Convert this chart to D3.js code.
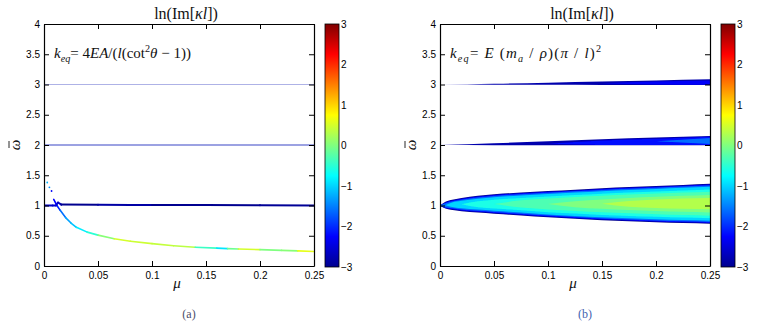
<!DOCTYPE html>
<html>
<head>
<meta charset="utf-8">
<script src="https://cdn.jsdelivr.net/npm/d3@7"></script>
<style>
  body { margin: 0; background: #fff; }
  svg { display: block; }
</style>
</head>
<body>
<svg id="fig" width="764" height="325"></svg>
<script>
// ---- values ----
const muTicks = [0, 0.05, 0.1, 0.15, 0.2, 0.25];
const omegaTicks = [0, 0.5, 1, 1.5, 2, 2.5, 3, 3.5, 4];
const cbTicks = [-3, -2, -1, 0, 1, 2, 3];

// panel (a): straight modes
const flatMu = [0, 0.25];
const flat3 = [3, 3];
const flat2 = [2, 2];
// panel (a): branch along omega = 1 (mu, omega, ln Im)
const branchMu = [0, 0.008, 0.011, 0.013, 0.016, 0.05, 0.08, 0.1, 0.15, 0.2, 0.25];
const branchOmega = [1.0, 1.0, 1.0, 1.05, 1.015, 1.012, 1.01, 1.01, 1.01, 1.005, 1.0];
const branchLn = [-2.6, -2.6, -2.6, -2.4, -3, -3, -2.7, -3, -3, -3, -2.9];
// panel (a): decaying branch
const curveMu = [0.009, 0.012, 0.015, 0.02, 0.025, 0.03, 0.04, 0.05, 0.065, 0.08, 0.1, 0.12, 0.14, 0.16, 0.17, 0.18, 0.2, 0.22, 0.235, 0.25];
const curveOmega = [1.1, 1.0, 0.92, 0.8, 0.71, 0.64, 0.56, 0.51, 0.45, 0.41, 0.37, 0.335, 0.31, 0.295, 0.287, 0.28, 0.27, 0.258, 0.25, 0.24];
const curveLn = [-2.2, -2.3, -1.8, -1.4, -1.2, -1.0, -0.7, -0.3, 0.4, 0.6, 0.3, 0.5, 0.2, -1.0, -0.8, 0.6, 0.4, -0.4, 0.5, 0.7];
// panel (a): scattered points above the junction
const dotMu = [0.003, 0.005, 0.007];
const dotOmega = [1.38, 1.3, 1.24];
const dotLn = [-1.2, -1.4, -2.3];

// panel (b): unstable band around omega = 1, nested levels of ln Im
const bandMu = [0, 0.005, 0.01, 0.02, 0.035, 0.05, 0.075, 0.1, 0.125, 0.15, 0.175, 0.2, 0.225, 0.25];
const band300Top = [1.0, 1.06, 1.09, 1.125, 1.16, 1.185, 1.215, 1.24, 1.262, 1.285, 1.305, 1.322, 1.34, 1.358];
const band300Bot = [1.0, 0.95, 0.93, 0.905, 0.885, 0.865, 0.835, 0.805, 0.78, 0.757, 0.74, 0.725, 0.712, 0.70];
const band220Top = [1.0, 1.05, 1.079, 1.113, 1.148, 1.173, 1.203, 1.228, 1.25, 1.273, 1.293, 1.31, 1.328, 1.346];
const band220Bot = [1.0, 0.958, 0.941, 0.917, 0.897, 0.877, 0.847, 0.817, 0.792, 0.769, 0.752, 0.737, 0.724, 0.712];
const band160Top = [1.0, 1.038, 1.063, 1.097, 1.132, 1.157, 1.187, 1.212, 1.234, 1.257, 1.277, 1.294, 1.312, 1.33];
const band160Bot = [1.0, 0.97, 0.958, 0.933, 0.913, 0.893, 0.863, 0.833, 0.808, 0.785, 0.768, 0.753, 0.74, 0.728];
const band100Top = [null, 1.005, 1.042, 1.077, 1.112, 1.137, 1.167, 1.192, 1.214, 1.237, 1.257, 1.274, 1.292, 1.31];
const band100Bot = [null, 1.005, 0.978, 0.953, 0.933, 0.913, 0.883, 0.853, 0.828, 0.805, 0.788, 0.773, 0.76, 0.748];
const band060Top = [null, null, null, 1.02, 1.07, 1.095, 1.125, 1.15, 1.172, 1.195, 1.215, 1.232, 1.25, 1.265];
const band060Bot = [null, null, null, 1.02, 0.97, 0.95, 0.92, 0.89, 0.866, 0.845, 0.828, 0.812, 0.8, 0.79];
const band030Top = [null, null, null, null, null, 1.025, 1.085, 1.115, 1.14, 1.16, 1.18, 1.197, 1.213, 1.228];
const band030Bot = [null, null, null, null, null, 1.025, 0.965, 0.935, 0.91, 0.888, 0.87, 0.855, 0.842, 0.832];
const band000Top = [null, null, null, null, null, null, null, 1.025, 1.07, 1.1, 1.125, 1.145, 1.16, 1.175];
const band000Bot = [null, null, null, null, null, null, null, 1.025, 0.97, 0.945, 0.925, 0.908, 0.895, 0.885];
const bandP30Top = [null, null, null, null, null, null, null, null, null, 1.03, 1.075, 1.1, 1.115, 1.125];
const bandP30Bot = [null, null, null, null, null, null, null, null, null, 1.03, 0.98, 0.96, 0.948, 0.94];
const bandLevels = [-3, -2.2, -1.6, -1.0, -0.6, -0.3, 0, 0.3];

// panel (b): thin wedges at omega = 2 and 3
const wedgeMu = [0, 0.05, 0.1, 0.15, 0.2, 0.25];
const w3OutTop = [3.0, 3.012, 3.028, 3.048, 3.068, 3.085];
const w3OutBot = [2.998, 2.996, 2.994, 2.992, 2.99, 2.99];
const w3InTop = [null, null, null, 3.02, 3.05, 3.068];
const w3InBot = [null, null, null, 3.02, 3.0, 2.996];
const w2OutTop = [2.0, 2.028, 2.062, 2.095, 2.122, 2.15];
const w2OutBot = [1.998, 1.996, 1.995, 1.995, 1.995, 1.995];
const w2InTop = [null, null, 2.02, 2.075, 2.105, 2.135];
const w2InBot = [null, null, 2.02, 2.0, 1.999, 1.999];
const w2CoreTop = [null, null, null, null, 2.06, 2.115];
const w2CoreBot = [null, null, null, null, 2.06, 2.015];

// ---- drawing ----
const svg = d3.select("#fig");
svg.append("rect").attr("width", 764).attr("height", 325).attr("fill", "#fff");

// MATLAB jet colormap
const jet = d3.scaleLinear()
  .domain([-3, -2.25, -0.75, 0.75, 2.25, 3])
  .range(["#00008f", "#0000ff", "#00ffff", "#ffff00", "#ff0000", "#800000"])
  .clamp(true);

const defs = svg.append("defs");
const grad = defs.append("linearGradient").attr("id", "jet")
  .attr("x1", 0).attr("y1", 1).attr("x2", 0).attr("y2", 0);
jet.domain().forEach(v => {
  grad.append("stop").attr("offset", (v + 3) / 6).attr("stop-color", jet(v));
});
defs.append("filter").attr("id", "soft")
  .append("feGaussianBlur").attr("stdDeviation", 0.5);

const sans = "'Liberation Sans', Arial, Helvetica, sans-serif";
const serif = "'Liberation Serif', 'Times New Roman', serif";

// text with italic / sub / sup pieces
function mathText(g, x, y, parts, size, anchor) {
  const t = g.append("text").attr("x", x).attr("y", y)
    .attr("text-anchor", anchor || "start")
    .style("font-family", serif).style("font-size", size + "px").attr("fill", "#111");
  let shift = 0;
  parts.forEach(([s, f]) => {
    f = f || "";
    const target = f.includes("_") ? size * 0.28 : f.includes("^") ? -size * 0.4 : 0;
    t.append("tspan").attr("dy", target - shift)
      .style("font-style", f.includes("i") ? "italic" : "normal")
      .style("font-size", target ? (size * 0.68) + "px" : null)
      .text(s);
    shift = target;
  });
  return t;
}

function panel(opt) {
  const x = d3.scaleLinear().domain([0, 0.25]).range([opt.left, opt.left + 270]);
  const y = d3.scaleLinear().domain([0, 4]).range([266, 24]);
  const g = svg.append("g");

  g.append("clipPath").attr("id", "clip" + opt.id)
    .append("rect").attr("x", x(0)).attr("y", y(4)).attr("width", 270).attr("height", y(0) - y(4));
  const plot = g.append("g").attr("clip-path", `url(#clip${opt.id})`);

  opt.draw(plot, x, y);

  // axes with inward ticks, MATLAB box
  const fmt = d3.format("~g");
  g.append("g").attr("transform", `translate(0,${y(0)})`)
    .call(d3.axisBottom(x).tickValues(muTicks).tickFormat(fmt).tickSize(-5).tickSizeOuter(0).tickPadding(6));
  g.append("g").attr("transform", `translate(${x(0)},0)`)
    .call(d3.axisLeft(y).tickValues(omegaTicks).tickFormat(fmt).tickSize(-5).tickSizeOuter(0).tickPadding(4));
  g.append("g").attr("transform", `translate(0,${y(4)})`)
    .call(d3.axisTop(x).tickValues(muTicks).tickFormat("").tickSize(-5).tickSizeOuter(0));
  g.append("g").attr("transform", `translate(${x(0.25)},0)`)
    .call(d3.axisRight(y).tickValues(omegaTicks).tickFormat("").tickSize(-5).tickSizeOuter(0));
  g.selectAll(".tick text").style("font-family", sans).style("font-size", "10px").attr("fill", "#000");
  g.selectAll(".domain").attr("stroke", "#000").attr("stroke-width", 1.2);
  g.selectAll(".tick line").attr("stroke", "#000");

  // colour bar
  const cbX = opt.left + 281;
  const cy = d3.scaleLinear().domain([-3, 3]).range([y(0) + 1, y(4)]);
  g.append("rect").attr("x", cbX).attr("y", cy(3)).attr("width", 14).attr("height", cy(-3) - cy(3))
    .attr("fill", "url(#jet)").attr("stroke", "#000").attr("stroke-width", 0.8);
  g.append("g").attr("transform", `translate(${cbX + 14},0)`)
    .call(d3.axisRight(cy).tickValues(cbTicks).tickFormat(d3.format("d")).tickSize(0).tickPadding(2))
    .call(a => a.select(".domain").remove())
    .selectAll("text").style("font-family", sans).style("font-size", "10px").attr("fill", "#000");

  // titles and labels
  mathText(g, opt.left + 142, 19, [["ln(Im[", ""], ["κl", "i"], ["])", ""]], 16, "middle");
  mathText(g, opt.left + 10, 58, opt.note, 15).style("letter-spacing", opt.noteSpacing + "px");
  mathText(g, opt.left + 133, 288, [["μ", "i"]], 15, "middle");
  const yl = g.append("g").attr("transform", `translate(${opt.left - 24},145) rotate(-90)`);
  yl.append("text").attr("text-anchor", "middle").style("font-family", serif).style("font-size", "15px")
    .style("font-style", "italic").attr("fill", "#111").text("ω");
  yl.append("line").attr("x1", -3).attr("x2", 4).attr("y1", -11).attr("y2", -11)
    .attr("stroke", "#111").attr("stroke-width", 0.9);
  g.append("text").attr("x", opt.left + 145).attr("y", 318).attr("text-anchor", "middle")
    .style("font-family", serif).style("font-size", "12px").attr("fill", opt.capColor).text(opt.caption);
}

function segments(plot, x, y, mu, om, ln, width) {
  const pts = mu.map((m, i) => ({ m, o: om[i], v: ln[i] }));
  plot.append("g").selectAll("line").data(pts.slice(1))
    .join("line")
    .attr("x1", (d, i) => x(pts[i].m)).attr("y1", (d, i) => y(pts[i].o))
    .attr("x2", d => x(d.m)).attr("y2", d => y(d.o))
    .attr("stroke", (d, i) => jet((d.v + pts[i].v) / 2))
    .attr("stroke-width", width).attr("stroke-linecap", "round");
}

function levelArea(plot, x, y, mu, top, bot, value) {
  const pts = mu.map((m, i) => ({ m, t: top[i], b: bot[i] }));
  const area = d3.area().defined(d => d.t != null)
    .x(d => x(d.m)).y0(d => y(d.b)).y1(d => y(d.t)).curve(d3.curveMonotoneX);
  plot.append("path").attr("d", area(pts)).attr("fill", jet(value));
}

// panel (a)
panel({
  id: "a", left: 44, caption: "(a)", capColor: "#4a4e6a", noteSpacing: 0,
  note: [["k", "i"], ["eq", "_i"], ["= 4", ""], ["EA", "i"], ["/(", ""], ["l", "i"], ["(cot", ""], ["2", "^"], ["θ", "i"], [" − 1))", ""]],
  draw: (plot, x, y) => {
    const line = d3.line().x(d => x(d[0])).y(d => y(d[1]));
    plot.append("path").attr("d", line(flatMu.map((m, i) => [m, flat3[i]])))
      .attr("fill", "none").attr("stroke", "#aeb2e6").attr("stroke-width", 1.2);
    plot.append("path").attr("d", line(flatMu.map((m, i) => [m, flat2[i]])))
      .attr("fill", "none").attr("stroke", "#9ca2e2").attr("stroke-width", 1.8);
    segments(plot, x, y, curveMu, curveOmega, curveLn, 1.6);
    segments(plot, x, y, branchMu, branchOmega, branchLn, 2);
    plot.append("g").selectAll("circle").data(dotMu).join("circle")
      .attr("cx", d => x(d)).attr("cy", (d, i) => y(dotOmega[i])).attr("r", 0.9)
      .attr("fill", (d, i) => jet(dotLn[i]));
  }
});

// panel (b)
panel({
  id: "b", left: 440, caption: "(b)", capColor: "#3f62b0", noteSpacing: 1.2,
  note: [["k", "i"], ["eq", "_i"], ["= ", ""], ["E", "i"], [" (", ""], ["m", "i"], ["a", "_i"], [" / ", ""], ["ρ", "i"], [")(", ""], ["π", "i"], [" / ", ""], ["l", "i"], [")", ""], ["2", "^"]],
  draw: (plot, x, y) => {
    const soft = plot.append("g").attr("filter", "url(#soft)");
    const tops = [band300Top, band220Top, band160Top, band100Top, band060Top, band030Top, band000Top, bandP30Top];
    const bots = [band300Bot, band220Bot, band160Bot, band100Bot, band060Bot, band030Bot, band000Bot, bandP30Bot];
    bandLevels.forEach((v, k) => levelArea(soft, x, y, bandMu, tops[k], bots[k], v));
    levelArea(soft, x, y, wedgeMu, w3OutTop, w3OutBot, -2.8);
    levelArea(soft, x, y, wedgeMu, w3InTop, w3InBot, -2.3);
    levelArea(soft, x, y, wedgeMu, w2OutTop, w2OutBot, -2.8);
    levelArea(soft, x, y, wedgeMu, w2InTop, w2InBot, -2.2);
    levelArea(soft, x, y, wedgeMu, w2CoreTop, w2CoreBot, -1.6);
  }
});
</script>
</body>
</html>
